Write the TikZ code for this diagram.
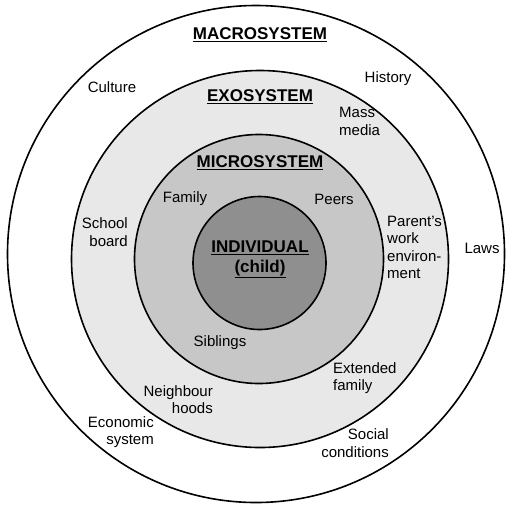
\documentclass[tikz,border=0pt]{standalone}
\usepackage{fontspec}
\setmainfont{Liberation Sans}
\definecolor{exogray}{gray}{0.91}
\definecolor{microgray}{gray}{0.78}
\definecolor{childgray}{gray}{0.56}
\tikzstyle{ring}=[draw=black,line width=1.6pt,circle,inner sep=0pt]
\tikzstyle{label}=[inner sep=0pt,font=\fontsize{15}{17.6}\selectfont]
\tikzstyle{title}=[inner sep=0pt,font=\fontsize{17}{19.5}\selectfont\bfseries]

\begin{document}
\begin{tikzpicture}[x=1pt,y=-1pt]
  \useasboundingbox (0,0) rectangle (510,504);
  % the four rings
  \node[ring,fill=white,minimum size=497pt] (macro) at (256,254) {};
  \node[ring,fill=exogray,minimum size=377pt] (exo) at (260,259) {};
  \node[ring,fill=microgray,minimum size=249pt] (micro) at (259,259) {};
  \node[ring,fill=childgray,minimum size=133pt] (child) at (259.5,263) {};
  % titles
  \node[title] (macrotitle) at (260,35) {\underline{MACROSYSTEM}};
  \node[title] (exotitle) at (260,97) {\underline{EXOSYSTEM}};
  \node[title] (microtitle) at (260,163) {\underline{MICROSYSTEM}};
  \node[title,align=center] (childtitle) at (260,259.5)
    {\underline{INDIVIDUAL}\\\underline{(child)}};
  % macrosystem
  \node[label] (culture) at (112,87) {Culture};
  \node[label] (history) at (388,79) {History};
  \node[label] (laws) at (482,248) {Laws};
  \node[label,align=right,anchor=east] (economic) at (154,432) {Economic\\system};
  \node[label,align=right,anchor=east] (social) at (389,443) {Social\\conditions};
  % exosystem
  \node[label,align=left,anchor=west] (media) at (339,121.5) {Mass\\media};
  \node[label,align=right,anchor=east] (school) at (128,232) {School\\board};
  \node[label,align=left,anchor=west] (work) at (387,247.5)
    {Parent's\\work\\environ-\\ment};
  \node[label,align=left,anchor=west] (extended) at (333,378) {Extended\\family};
  \node[label,align=right,anchor=east] (hoods) at (213,399.5) {Neighbour\\hoods};
  % microsystem
  \node[label] (family) at (185,199) {Family};
  \node[label] (peers) at (334,199) {Peers};
  \node[label] (siblings) at (220,343) {Siblings};
\end{tikzpicture}
\end{document}
